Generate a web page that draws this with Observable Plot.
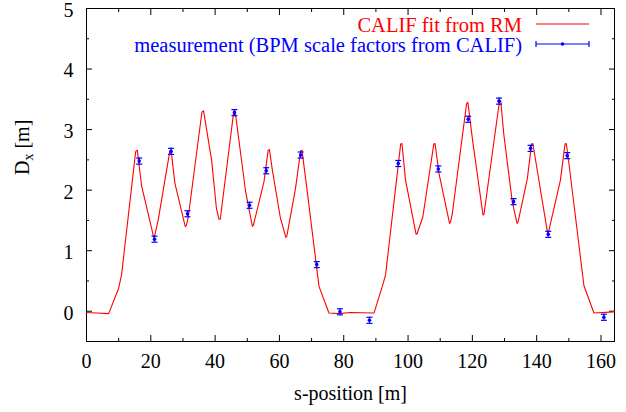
<!DOCTYPE html>
<html>
<head>
<meta charset="utf-8">
<script src="https://cdn.jsdelivr.net/npm/d3@7"></script>
<script src="https://cdn.jsdelivr.net/npm/@observablehq/plot@0.6"></script>
<style>
  html, body { margin: 0; padding: 0; background: white; }
  svg, svg text { font-family: "Liberation Serif", "Times New Roman", serif !important; }
</style>
</head>
<body>
<div id="chart"></div>
<script>
// CALIF fit from RM (red line)
const fitS = [0, 3, 6.9, 10.0, 10.9, 15.3, 15.8, 17.1, 20.9, 21.2, 22.3, 25.9, 26.3, 27.5, 30.7, 31.0, 31.6,
  35.9, 36.4, 38.9, 40.4, 41.2, 41.6, 45.8, 46.2, 49.5, 51.6, 51.9, 55.2, 56.5, 56.9, 57.8, 60.3, 62.0, 62.3,
  65.0, 66.6, 67.0, 68.6, 72.3, 75.4, 78.5, 82.1, 89.4, 92.0, 93.0, 97.7, 98.1, 99.2, 102.5, 102.8, 104.6,
  108.0, 108.4, 109.6, 112.9, 113.2, 113.7, 118.2, 118.6, 120.0, 123.3, 123.6, 128.4, 128.8, 129.8, 132.4,
  133.9, 134.2, 137.1, 138.4, 138.8, 143.4, 143.7, 147.4, 148.8, 149.2, 149.7, 154.7, 157.8, 164.2];
const fitD = [-0.02, -0.03, -0.04, 0.38, 0.60, 2.64, 2.66, 2.08, 1.22, 1.24, 1.51, 2.64, 2.66, 2.11, 1.40, 1.41, 1.54,
  3.29, 3.31, 2.50, 1.70, 1.52, 1.52, 3.30, 3.31, 1.97, 1.40, 1.42, 2.14, 2.66, 2.67, 2.33, 1.54, 1.22, 1.24,
  2.03, 2.65, 2.66, 2.00, 0.41, -0.03, -0.04, -0.02, -0.03, 0.41, 0.60, 2.76, 2.77, 2.17, 1.27, 1.28, 1.56,
  2.76, 2.77, 2.28, 1.45, 1.47, 1.59, 3.43, 3.45, 2.85, 1.59, 1.60, 3.46, 3.48, 2.91, 1.81,
  1.45, 1.47, 2.19, 2.76, 2.77, 1.29, 1.31, 2.17, 2.76, 2.77, 2.58, 0.42, -0.03, -0.01];

// measurement (BPM scale factors from CALIF)
const measS = [16.4, 21.15, 26.3, 31.4, 46.0, 50.7, 55.9, 66.6, 71.6, 78.8, 88.0,
  96.95, 109.4, 118.7, 128.3, 132.8, 138.1, 143.6, 149.5, 160.9];
const measD = [2.48, 1.19, 2.64, 1.61, 3.28, 1.75, 2.32, 2.58, 0.77, -0.01, -0.15,
  2.44, 2.35, 3.17, 3.47, 1.81, 2.69, 1.27, 2.57, -0.10];
const measErr = [0.05, 0.05, 0.05, 0.05, 0.05, 0.05, 0.05, 0.05, 0.05, 0.05, 0.05,
  0.05, 0.05, 0.05, 0.05, 0.05, 0.05, 0.05, 0.05, 0.05];

const xTicks = [0, 20, 40, 60, 80, 100, 120, 140, 160];
const xMinor = [10, 30, 50, 70, 90, 110, 130, 150];
const yTicks = [0, 1, 2, 3, 4, 5];
const yMinor = [0.5, 1.5, 2.5, 3.5, 4.5];

const fit = fitS.map((s, i) => ({s, d: fitD[i]}));
const meas = measS.map((s, i) => ({s, d: measD[i], e: measErr[i]}));

const W = 626, H = 412, mL = 86, mR = 12, mT = 8, mB = 71;
const font = "Liberation Serif, Times New Roman, serif";

const capSymbol = {
  draw(context, size) {
    const r = Math.sqrt(size / Math.PI);
    context.moveTo(-r, 0);
    context.lineTo(r, 0);
  }
};

const svg = Plot.plot({
  width: W, height: H,
  marginLeft: mL, marginRight: mR, marginTop: mT, marginBottom: mB,
  style: {fontFamily: font, fontSize: "20px", background: "white", color: "black", overflow: "visible"},
  x: {domain: [0, 164.2]},
  y: {domain: [-0.5, 5]},
  marks: [
    Plot.axisX({ticks: xTicks, tickSize: 0, tickPadding: 12, label: null, anchor: "bottom", tickFormat: d3.format("d")}),
    Plot.axisY({ticks: yTicks, tickSize: 0, tickPadding: 13, dy: 2, label: null, anchor: "left", tickFormat: d3.format("d")}),
    Plot.axisX({ticks: xTicks, text: null, tickSize: -6, anchor: "bottom", label: null}),
    Plot.axisX({ticks: xTicks, text: null, tickSize: -6, anchor: "top", label: null}),
    Plot.axisX({ticks: xMinor, text: null, tickSize: -3, anchor: "bottom", label: null}),
    Plot.axisX({ticks: xMinor, text: null, tickSize: -3, anchor: "top", label: null}),
    Plot.axisY({ticks: yTicks, text: null, tickSize: -6, anchor: "left", label: null}),
    Plot.axisY({ticks: yTicks, text: null, tickSize: -6, anchor: "right", label: null}),
    Plot.axisY({ticks: yMinor, text: null, tickSize: -3, anchor: "left", label: null}),
    Plot.axisY({ticks: yMinor, text: null, tickSize: -3, anchor: "right", label: null}),
    Plot.frame({stroke: "black", strokeWidth: 1}),
    Plot.line(fit, {x: "s", y: "d", stroke: "red", strokeWidth: 1.1}),
    Plot.ruleX(meas, {x: "s", y1: d => d.d - d.e, y2: d => d.d + d.e, stroke: "blue", strokeWidth: 1.2}),
    Plot.dot(meas, {x: "s", y: d => d.d - d.e, symbol: capSymbol, r: 3, stroke: "blue", fill: "none", strokeWidth: 1.2}),
    Plot.dot(meas, {x: "s", y: d => d.d + d.e, symbol: capSymbol, r: 3, stroke: "blue", fill: "none", strokeWidth: 1.2}),
    Plot.dot(meas, {x: "s", y: "d", r: 1.8, fill: "blue", stroke: "none"}),
    Plot.text(["s-position [m]"], {frameAnchor: "bottom", dy: 52, lineAnchor: "middle", fontSize: 20, fill: "black"}),
    Plot.text(["Dx [m]"], {frameAnchor: "left", dx: -64, rotate: -90, lineAnchor: "middle", fontSize: 20, fill: "black"})
  ]
});

// subscript in y label
d3.select(svg).selectAll("text").filter(function() { return this.textContent === "Dx [m]"; }).each(function() {
  const t = d3.select(this);
  t.text(null);
  t.append("tspan").text("D");
  t.append("tspan").attr("baseline-shift", "-30%").attr("font-size", "14px").text("x");
  t.append("tspan").text(" [m]");
});

// legend (top right, inside the frame)
const lg = d3.select(svg).append("g").attr("font-family", font).attr("font-size", 20.5);
const textRight = W - mR - 92;
const sx1 = W - mR - 78, sx2 = W - mR - 25;
const rows = [
  {label: "CALIF fit from RM", color: "red", base: mT + 24, ly: mT + 16, err: false},
  {label: "measurement (BPM scale factors from CALIF)", color: "blue", base: mT + 44, ly: mT + 36, err: true}
];
rows.forEach(r => {
  lg.append("text").attr("x", textRight).attr("y", r.base).attr("text-anchor", "end").attr("fill", r.color).text(r.label);
  lg.append("line").attr("x1", sx1).attr("x2", sx2).attr("y1", r.ly).attr("y2", r.ly)
    .attr("stroke", r.color).attr("stroke-width", 1.2);
  if (r.err) {
    [sx1, sx2].forEach(x => lg.append("line").attr("x1", x).attr("x2", x).attr("y1", r.ly - 3).attr("y2", r.ly + 3)
      .attr("stroke", r.color).attr("stroke-width", 1.2));
    lg.append("circle").attr("cx", (sx1 + sx2) / 2).attr("cy", r.ly).attr("r", 1.8).attr("fill", r.color);
  }
});

document.getElementById("chart").appendChild(svg);
</script>
</body>
</html>
